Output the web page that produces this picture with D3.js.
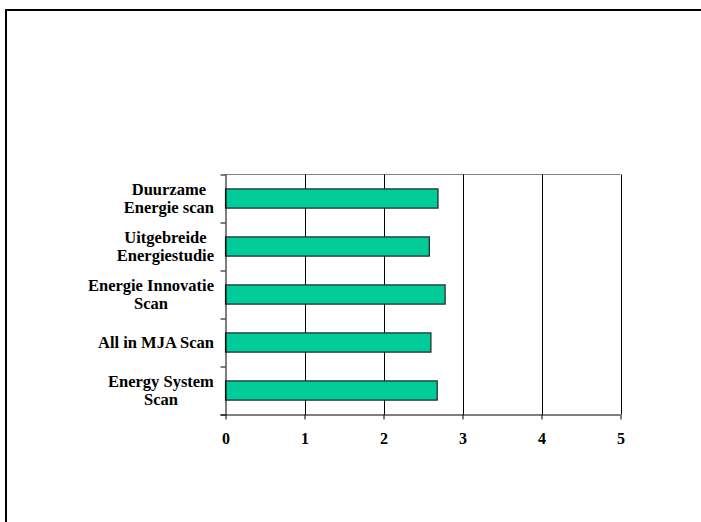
<!DOCTYPE html>
<html><head><meta charset="utf-8">
<script src="https://cdn.jsdelivr.net/npm/d3@7"></script>
<style>body{margin:0;background:#fff}svg{display:block}</style>
</head><body>
<script>
const categories = [["Duurzame","Energie scan"],["Uitgebreide","Energiestudie"],["Energie Innovatie","Scan"],["All in MJA Scan"],["Energy System","Scan"]];
const values = [2.69, 2.58, 2.78, 2.60, 2.68];
const xTicks = [0,1,2,3,4,5];

const W=701,H=522;
const svg=d3.select("body").append("svg").attr("width",W).attr("height",H);
// frame (top & left)
svg.append("line").attr("x1",6).attr("x2",W).attr("y1",10).attr("y2",10).attr("stroke","#000").attr("stroke-width",2);
svg.append("line").attr("x1",6).attr("x2",6).attr("y1",9).attr("y2",H).attr("stroke","#000").attr("stroke-width",2);

const L=225.5,R=620.5,T=174.5,B=414.5;
const x=d3.scaleLinear().domain([0,5]).range([L,R]);
const y=d3.scaleBand().domain(d3.range(categories.length)).range([T,B]).paddingInner(0.6).paddingOuter(0.3);
const yb=d3.scaleBand().domain(d3.range(categories.length)).range([T,B]);
const fam="'Liberation Serif','Times New Roman',serif";

// plot border top
svg.append("line").attr("x1",L).attr("x2",R).attr("y1",T).attr("y2",T).attr("stroke","#808080");
// gridlines
svg.selectAll(".grid").data(xTicks.slice(1)).enter().append("line")
 .attr("x1",d=>Math.round(x(d))+0.5).attr("x2",d=>Math.round(x(d))+0.5).attr("y1",T).attr("y2",B).attr("stroke","#000");

// bars
svg.selectAll(".bar").data(values).enter().append("rect")
 .attr("x",x(0)).attr("y",(d,i)=>y(i)).attr("width",d=>x(d)-x(0)).attr("height",y.bandwidth())
 .attr("fill","#00CC99").attr("stroke","#222").attr("stroke-width",1.2);

// x axis
const xa=svg.append("g").attr("transform",`translate(0,${B})`).call(d3.axisBottom(x).tickValues(xTicks).tickSize(5).tickPadding(13).tickFormat(d3.format("d")));
xa.select(".domain").attr("d",`M${L-5},0.5H${R}`).attr("stroke","#000");
xa.selectAll("text").attr("font-family",fam).attr("font-weight","bold").attr("font-size","16px").attr("fill","#000");

// y axis ticks
const ya=svg.append("g").attr("transform",`translate(${L},0)`).call(d3.axisLeft(d3.scaleLinear().domain([0,5]).range([B,T])).ticks(5).tickSize(5).tickFormat(""));
ya.select(".domain").attr("d",`M0.5,${T}V${B}`).attr("stroke","#000");

// category labels
categories.forEach((lines,i)=>{
  const cy=yb(i)+yb.bandwidth()/2;
  const lh=18.5;
  const t=svg.append("text").attr("font-family",fam).attr("font-weight","bold").attr("font-size","16.5px").attr("text-anchor","middle").attr("fill","#000");
  lines.forEach((ln,j)=>{
    t.append("tspan").attr("x",0).attr("y",cy+(j-(lines.length-1)/2)*lh+5.5).text(ln);
  });
  const w=t.node().getBBox().width;
  t.attr("transform",`translate(${214-w/2},0)`);
});
</script>
</body></html>
